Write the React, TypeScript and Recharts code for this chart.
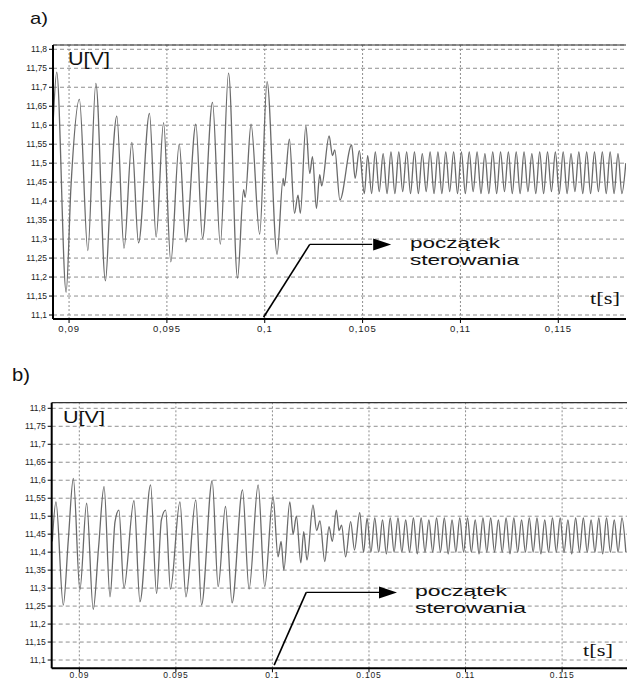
import React from 'react';
import { LineChart, Line, XAxis, YAxis, CartesianGrid, ReferenceLine, ReferenceDot } from 'recharts';

const xTicks = [0.09, 0.095, 0.1, 0.105, 0.11, 0.115];
const xTickLabelsA = ['0,09', '0,095', '0,1', '0,105', '0,11', '0,115'];
const xTickLabelsB = ['0.09', '0.095', '0.1', '0.105', '0.11', '0.115'];
const yTicks = [11.1, 11.15, 11.2, 11.25, 11.3, 11.35, 11.4, 11.45, 11.5, 11.55, 11.6, 11.65, 11.7, 11.75, 11.8];
const yTickLabels = ['11,1', '11,15', '11,2', '11,25', '11,3', '11,35', '11,4', '11,45', '11,5', '11,55', '11,6', '11,65', '11,7', '11,75', '11,8'];

// panel a) : time [s] and voltage [V]
const timeA = [
  0.08920, 0.08937, 0.08985, 0.09010, 0.09053, 0.09096, 0.09137, 0.09186, 0.09210, 0.09244,
  0.09281, 0.09321, 0.09355, 0.09411, 0.09445, 0.09483, 0.09520, 0.09563, 0.09597, 0.09648,
  0.09682, 0.09733, 0.09773, 0.09815, 0.09861, 0.09892, 0.09900, 0.09930, 0.09974, 0.10012,
  0.10063, 0.10094, 0.10100, 0.10126, 0.10152, 0.10170, 0.10182, 0.10210, 0.10230, 0.10244,
  0.10264, 0.10281, 0.10291, 0.10329, 0.10346, 0.10358, 0.10384, 0.10444, 0.10462, 0.10483,
  0.10509, 0.10526, 0.10546, 0.10565, 0.10585, 0.10605, 0.10625, 0.10645, 0.10665, 0.10685,
  0.10705, 0.10725, 0.10745, 0.10765, 0.10785, 0.10805, 0.10825, 0.10845, 0.10865, 0.10885,
  0.10905, 0.10925, 0.10945, 0.10965, 0.10985, 0.11005, 0.11025, 0.11045, 0.11065, 0.11085,
  0.11105, 0.11125, 0.11145, 0.11165, 0.11185, 0.11205, 0.11225, 0.11245, 0.11265, 0.11285,
  0.11305, 0.11325, 0.11345, 0.11365, 0.11385, 0.11405, 0.11425, 0.11445, 0.11465, 0.11485,
  0.11505, 0.11525, 0.11545, 0.11565, 0.11585, 0.11605, 0.11625, 0.11645, 0.11665, 0.11685,
  0.11705, 0.11725, 0.11745, 0.11765, 0.11785, 0.11805, 0.11825, 0.11845,
];
const voltA = [
  11.62, 11.74, 11.16, 11.44, 11.668, 11.27, 11.71, 11.19, 11.40, 11.624,
  11.276, 11.555, 11.29, 11.631, 11.306, 11.607, 11.24, 11.55, 11.293, 11.603,
  11.302, 11.66, 11.287, 11.737, 11.197, 11.43, 11.41, 11.603, 11.313, 11.715,
  11.26, 11.46, 11.44, 11.563, 11.368, 11.416, 11.368, 11.598, 11.473, 11.517,
  11.381, 11.47, 11.44, 11.572, 11.52, 11.535, 11.403, 11.548, 11.46, 11.533,
  11.42, 11.52, 11.42, 11.53, 11.425, 11.525, 11.42, 11.53, 11.42, 11.53,
  11.425, 11.53, 11.42, 11.53, 11.42, 11.525, 11.425, 11.53, 11.42, 11.53,
  11.42, 11.53, 11.425, 11.53, 11.42, 11.53, 11.42, 11.53, 11.425, 11.53,
  11.42, 11.525, 11.42, 11.53, 11.42, 11.53, 11.425, 11.53, 11.42, 11.53,
  11.42, 11.53, 11.425, 11.525, 11.42, 11.53, 11.42, 11.53, 11.425, 11.53,
  11.42, 11.53, 11.42, 11.525, 11.425, 11.53, 11.42, 11.53, 11.42, 11.53,
  11.425, 11.53, 11.42, 11.53, 11.42, 11.525, 11.42, 11.50,
];

// panel b)
const timeB = [
  0.08860, 0.08879, 0.08917, 0.08943, 0.08969, 0.09003, 0.09038, 0.09072, 0.09100, 0.09128,
  0.09159, 0.09185, 0.09205, 0.09231, 0.09283, 0.09314, 0.09369, 0.09400, 0.09425, 0.09447,
  0.09472, 0.09521, 0.09552, 0.09603, 0.09633, 0.09688, 0.09719, 0.09757, 0.09791, 0.09845,
  0.09879, 0.09926, 0.09960, 0.10003, 0.10029, 0.10045, 0.10059, 0.10090, 0.10107, 0.10124,
  0.10147, 0.10162, 0.10179, 0.10210, 0.10229, 0.10246, 0.10271, 0.10293, 0.10310, 0.10331,
  0.10345, 0.10358, 0.10379, 0.10405, 0.10425, 0.10452, 0.10472, 0.10490,
  0.10510, 0.10530, 0.10550, 0.10570, 0.10590, 0.10610, 0.10630, 0.10650, 0.10670, 0.10690,
  0.10710, 0.10730, 0.10750, 0.10770, 0.10790, 0.10810, 0.10830, 0.10850, 0.10870, 0.10890,
  0.10910, 0.10930, 0.10950, 0.10970, 0.10990, 0.11010, 0.11030, 0.11050, 0.11070, 0.11090,
  0.11110, 0.11130, 0.11150, 0.11170, 0.11190, 0.11210, 0.11230, 0.11250, 0.11270, 0.11290,
  0.11310, 0.11330, 0.11350, 0.11370, 0.11390, 0.11410, 0.11430, 0.11450, 0.11470, 0.11490,
  0.11510, 0.11530, 0.11550, 0.11570, 0.11590, 0.11610, 0.11630, 0.11650, 0.11670, 0.11690,
  0.11710, 0.11730, 0.11750, 0.11770, 0.11790, 0.11810, 0.11830,
];
const voltB = [
  11.43, 11.54, 11.253, 11.434, 11.605, 11.295, 11.536, 11.241, 11.415, 11.582,
  11.276, 11.485, 11.517, 11.30, 11.543, 11.262, 11.587, 11.285, 11.49, 11.517,
  11.297, 11.54, 11.276, 11.545, 11.253, 11.599, 11.304, 11.527, 11.259, 11.573,
  11.297, 11.587, 11.304, 11.554, 11.387, 11.43, 11.35, 11.54, 11.45, 11.50,
  11.37, 11.457, 11.378, 11.531, 11.46, 11.487, 11.374, 11.471, 11.43, 11.517,
  11.46, 11.475, 11.387, 11.485, 11.406, 11.51, 11.40, 11.494,
  11.40, 11.495, 11.40, 11.49, 11.395, 11.495, 11.40, 11.495, 11.40, 11.49,
  11.40, 11.495, 11.395, 11.495, 11.40, 11.49, 11.40, 11.495, 11.40, 11.495,
  11.395, 11.49, 11.40, 11.495, 11.40, 11.495, 11.40, 11.49, 11.395, 11.495,
  11.40, 11.495, 11.40, 11.49, 11.40, 11.495, 11.395, 11.495, 11.40, 11.49,
  11.40, 11.495, 11.40, 11.495, 11.395, 11.49, 11.40, 11.495, 11.40, 11.495,
  11.40, 11.49, 11.395, 11.495, 11.40, 11.495, 11.40, 11.49, 11.40, 11.495,
  11.395, 11.495, 11.40, 11.49, 11.40, 11.495, 11.40,
];

const dataA = timeA.map((t, i) => ({ t, u: voltA[i] }));
const dataB = timeB.map((t, i) => ({ t, u: voltB[i] }));

const domXA: [number, number] = [0.08918, 0.11846];
const domYA: [number, number] = [11.0895, 11.8113];
const domXB: [number, number] = [0.08857, 0.11836];
const domYB: [number, number] = [11.077, 11.8156];

const arrowA = { x0: 0.09994, y0: 11.094, x1: 0.1023, y1: 11.286, x2: 0.10549, tip: 0.10646 };
const arrowB = { x0: 0.10009, y0: 11.086, x1: 0.10175, y1: 11.288, x2: 0.10558, tip: 0.10645 };

const sans = '"Liberation Sans", Arial, sans-serif';
const serif = '"Liberation Serif", "Times New Roman", serif';

const ArrowHead = (props: any) => {
  const { cx, cy } = props;
  if (cx == null || cy == null) return null;
  return <polygon points={`${cx},${cy} ${cx - 18},${cy - 6} ${cx - 18},${cy + 6}`} fill="#000" />;
};

function Panel(props: {
  data: { t: number; u: number }[];
  domX: [number, number];
  domY: [number, number];
  xLabels: string[];
  yAxisWidth: number;
  height: number;
  margin: { top: number; right: number; bottom: number; left: number };
  xAxisHeight: number;
  xTickMargin: number;
  xFont: number;
  arrow: typeof arrowA;
}) {
  const { data, domX, domY, xLabels, yAxisWidth, height, margin, xAxisHeight, xTickMargin, xFont, arrow } = props;
  return (
    <LineChart width={627} height={height} data={data} margin={margin} style={{ overflow: 'visible' }}>
      <CartesianGrid vertical={false} stroke="#8f8f8f" strokeDasharray="4 3" />
      {xTicks.map((x) => (
        <ReferenceLine key={x} x={x} stroke="#8f8f8f" strokeDasharray="2 2" />
      ))}
      <ReferenceLine y={domY[1]} stroke="#333" strokeWidth={1.2} />
      <XAxis
        dataKey="t"
        type="number"
        domain={domX}
        ticks={xTicks}
        allowDataOverflow
        height={xAxisHeight}
        tickSize={4}
        tickMargin={xTickMargin}
        axisLine={{ stroke: '#000', strokeWidth: 2 }}
        tickLine={{ stroke: '#000' }}
        tick={{ fontSize: xFont, fill: '#222', fontFamily: sans, letterSpacing: 0.8 }}
        tickFormatter={(v: number, i: number) => xLabels[i]}
        interval={0}
      />
      <YAxis
        type="number"
        domain={domY}
        ticks={yTicks}
        allowDataOverflow
        width={yAxisWidth}
        tickSize={4}
        tickMargin={2}
        axisLine={{ stroke: '#000', strokeWidth: 2 }}
        tickLine={{ stroke: '#000' }}
        tick={{ fontSize: 8.5, fill: '#222', fontFamily: sans }}
        tickFormatter={(v: number, i: number) => yTickLabels[i]}
        interval={0}
      />
      <Line type="monotone" dataKey="u" stroke="#6a6a6a" strokeWidth={1.3} dot={false} isAnimationActive={false} />
      <ReferenceLine
        segment={[{ x: arrow.x0, y: arrow.y0 }, { x: arrow.x1, y: arrow.y1 }]}
        stroke="#000"
        strokeWidth={1.6}
        ifOverflow="visible"
      />
      <ReferenceLine
        segment={[{ x: arrow.x1, y: arrow.y1 }, { x: arrow.x2, y: arrow.y1 }]}
        stroke="#000"
        strokeWidth={1.3}
        ifOverflow="visible"
      />
      <ReferenceDot x={arrow.tip} y={arrow.y1} r={6} shape={ArrowHead} ifOverflow="visible" />
    </LineChart>
  );
}

export default function App() {
  return (
    <div style={{ position: 'absolute', left: 0, top: 0, width: 627, height: 681, background: '#fff', overflow: 'hidden' }}>
      <div style={{ position: 'absolute', left: 0, top: 0 }}>
        <Panel
          data={dataA}
          domX={domXA}
          domY={domYA}
          xLabels={xTickLabelsA}
          yAxisWidth={53}
          height={345}
          margin={{ top: 45, right: 1, bottom: 6, left: 0 }}
          xAxisHeight={20}
          xTickMargin={2}
          xFont={9.5}
          arrow={arrowA}
        />
      </div>
      <div style={{ position: 'absolute', left: 0, top: 360 }}>
        <Panel
          data={dataB}
          domX={domXB}
          domY={domYB}
          xLabels={xTickLabelsB}
          yAxisWidth={51.7}
          height={321}
          margin={{ top: 42.7, right: 0, bottom: 0.7, left: 0 }}
          xAxisHeight={12}
          xTickMargin={0}
          xFont={8.5}
          arrow={arrowB}
        />
      </div>
      <svg width={627} height={681} style={{ position: 'absolute', left: 0, top: 0, pointerEvents: 'none' }}>
        <text x={30} y={24} fontSize={17} fontFamily={sans} fill="#111" textLength={18} lengthAdjust="spacingAndGlyphs">a)</text>
        <text x={12} y={381} fontSize={18} fontFamily={sans} fill="#111" textLength={18} lengthAdjust="spacingAndGlyphs">b)</text>
        <text x={68} y={65} fontSize={19} fontFamily={sans} fill="#111" textLength={42} lengthAdjust="spacingAndGlyphs">U[V]</text>
        <text x={63} y={423} fontSize={17} fontFamily={sans} fill="#111" textLength={42} lengthAdjust="spacingAndGlyphs">U[V]</text>
        <text x={590} y={304} fontSize={17} fontFamily={serif} fill="#111" textLength={30} lengthAdjust="spacingAndGlyphs">t[s]</text>
        <text x={583} y={656} fontSize={17} fontFamily={serif} fill="#111" textLength={30} lengthAdjust="spacingAndGlyphs">t[s]</text>
        <text x={410} y={248} fontSize={15} fontFamily={sans} fill="#111" textLength={90} lengthAdjust="spacingAndGlyphs">początek</text>
        <text x={410} y={265} fontSize={15} fontFamily={sans} fill="#111" textLength={109} lengthAdjust="spacingAndGlyphs">sterowania</text>
        <text x={415} y={596} fontSize={15} fontFamily={sans} fill="#111" textLength={92} lengthAdjust="spacingAndGlyphs">początek</text>
        <text x={415} y={613} fontSize={15} fontFamily={sans} fill="#111" textLength={111} lengthAdjust="spacingAndGlyphs">sterowania</text>
      </svg>
    </div>
  );
}
